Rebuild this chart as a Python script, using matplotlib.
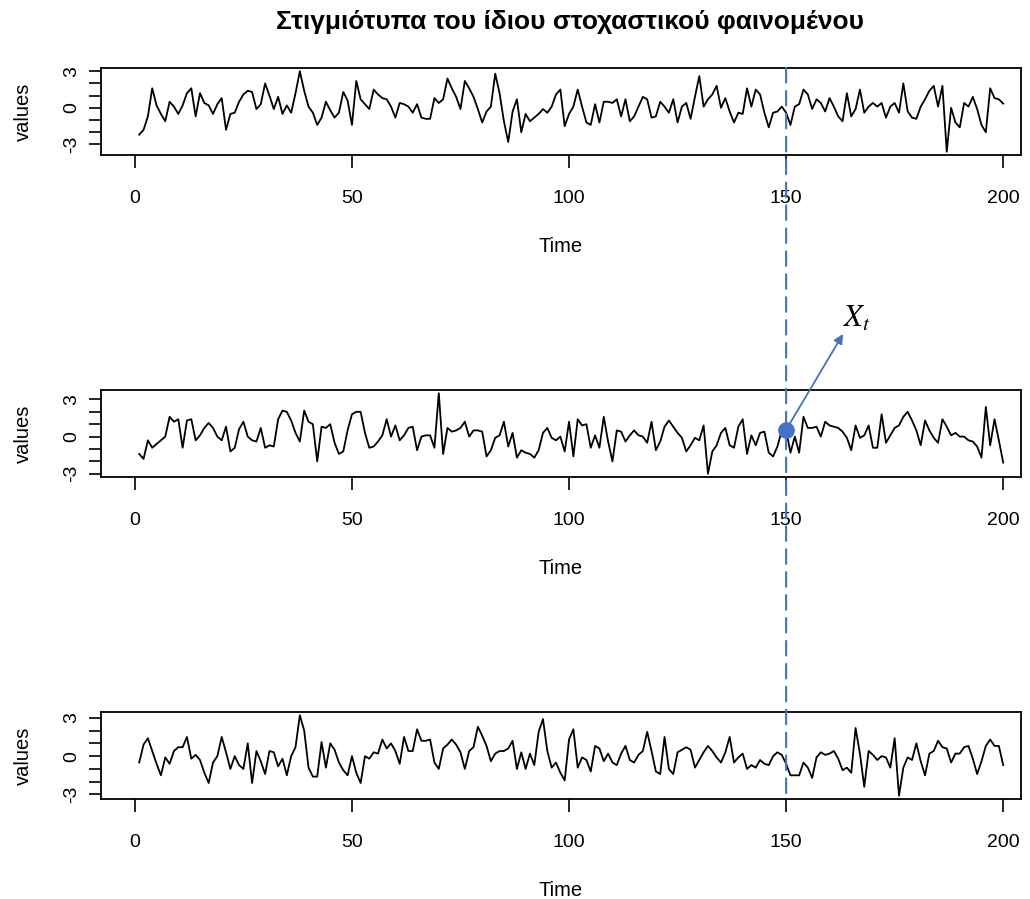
import matplotlib.pyplot as plt
from matplotlib.patches import ConnectionPatch
import numpy as np

plt.rcParams['font.family'] = ['Liberation Sans', 'DejaVu Sans']
plt.rcParams['mathtext.fontset'] = 'stix'

title = "Στιγμιότυπα του ίδιου στοχαστικού φαινομένου"

# three realisations of the same process (t = 1..200)
series_1 = [
    -2.2, -1.8, -0.7, 1.6, 0.2, -0.5, -1.1, 0.5, 0.1, -0.5,
    0.2, 1.2, 1.6, -0.7, 1.2, 0.4, 0.2, -0.5, 0.3, 0.8,
    -1.8, -0.5, -0.4, 0.5, 1.1, 1.4, 1.3, -0.1, 0.3, 2.0,
    1.0, -0.1, 0.9, -0.5, 0.2, -0.4, 1.2, 3.0, 1.4, 0.1,
    -0.4, -1.4, -0.8, 0.5, -0.2, -0.8, -0.4, 1.3, 0.6, -1.4,
    2.2, 0.7, 0.3, -0.1, 1.5, 1.1, 0.8, 0.7, 0.1, -0.8,
    0.4, 0.3, 0.1, -0.4, 0.3, -0.8, -0.9, -0.9, 0.8, 0.4,
    0.7, 2.4, 1.6, 0.9, -0.1, 2.2, 1.6, 0.9, -0.1, -1.2,
    -0.3, 0.1, 2.8, 1.2, -1.1, -2.8, -0.3, 0.7, -2.0, -0.5,
    -1.1, -0.8, -0.5, -0.1, -0.4, 0.1, 1.1, 1.5, -1.5, -0.5,
    0.1, 1.5, 0.1, -1.2, -1.4, 0.3, -1.2, 0.5, 0.5, 0.4,
    0.7, -0.7, 0.7, -1.1, -0.7, 0.1, 0.9, 0.7, -0.8, -0.7,
    0.5, 0.1, -0.4, 0.7, -1.2, 0.1, 0.4, -0.9, 0.9, 2.6,
    0.1, 0.7, 1.1, 1.8, 0.0, 0.8, -0.3, -1.2, -0.4, -0.5,
    1.6, 0.1, 1.5, 1.1, -0.4, -1.6, -0.4, -0.3, 0.1, -0.4,
    -1.4, 0.1, 0.3, 1.5, 1.1, -0.1, 0.7, 0.4, -0.3, 0.8,
    0.1, -0.7, -1.1, 1.2, -0.7, -0.1, 1.5, -0.4, 0.1, 0.4,
    0.1, 0.4, -0.8, 0.1, 0.4, -0.4, 2.0, -0.3, -0.8, -0.9,
    0.1, 0.7, 1.4, 1.8, 0.1, 1.8, -3.6, 0.0, -1.2, -1.6,
    0.4, 0.1, 0.9, -0.1, -1.4, -2.0, 1.6, 0.8, 0.7, 0.35,
]
series_2 = [
    -1.4, -1.8, -0.3, -0.9, -0.6, -0.3, 0.0, 1.6, 1.2, 1.4,
    -0.9, 1.3, 1.4, -0.3, 0.1, 0.7, 1.1, 0.7, 0.0, -0.3,
    0.8, -1.2, -0.9, 0.6, 1.2, 0.0, -0.3, -0.4, 0.7, -0.9,
    -0.7, -0.8, 1.4, 2.1, 2.0, 1.3, 0.3, -0.4, 2.1, 1.2,
    1.0, -2.0, 0.8, 0.7, 1.0, -0.5, -1.4, -1.2, 0.5, 1.8,
    2.0, 2.0, 0.3, -0.9, -0.8, -0.4, 0.1, 1.4, 0.0, 0.9,
    -0.3, 0.1, 0.7, 0.8, -1.1, 0.0, 0.1, 0.1, -0.9, 3.5,
    -1.4, 0.7, 0.4, 0.5, 0.7, 1.2, 0.0, 0.5, 0.5, 0.4,
    -1.6, -1.1, -0.1, 0.1, 1.2, -0.8, 0.3, -1.7, -1.1, -1.3,
    -1.4, -1.7, -1.1, 0.3, 0.7, -0.1, -0.3, 0.0, -1.2, 1.2,
    -1.6, 1.4, 0.9, 1.0, -0.9, 0.1, -0.9, 1.6, -0.4, -2.0,
    0.5, 0.4, -0.4, 0.1, 0.5, 0.1, 0.0, -0.5, 1.2, -1.1,
    -0.4, 0.8, 1.3, 0.8, 0.3, -0.1, -1.2, -0.7, -0.1, -0.3,
    0.9, -3.0, -1.2, -0.7, 0.3, 0.7, -0.7, -0.9, 0.8, 1.4,
    -1.4, 0.1, -0.7, 0.3, 0.4, -1.3, -1.6, -0.8, 0.5, 0.55,
    -1.3, 0.0, -1.3, 1.6, 0.7, 0.7, 0.8, 0.0, 1.2, 0.9,
    0.8, 0.7, 0.4, -0.1, -1.1, 0.9, -0.1, 0.1, 0.9, -0.9,
    -0.9, 1.8, -0.5, 0.1, 0.7, 0.9, 1.6, 2.0, 1.3, 0.5,
    -0.7, 1.3, 0.5, -0.1, -0.5, 1.4, 0.8, 0.1, 0.3, 0.0,
    0.0, -0.3, -0.4, -0.8, -1.7, 2.4, -0.7, 1.4, -0.3, -2.1,
]
series_3 = [
    -0.5, 0.9, 1.4, 0.4, -0.6, -1.5, -0.1, -0.6, 0.4, 0.7,
    0.7, 1.5, -0.2, 0.1, -0.3, -1.3, -2.1, -0.5, 0.0, 1.5,
    0.3, -1.0, 0.0, -0.7, -1.0, 1.0, -2.1, 0.4, -0.4, -1.4,
    0.4, 0.3, -0.8, -0.2, -1.5, 0.0, 0.7, 3.2, 2.0, -0.9,
    -1.6, -1.6, 1.1, -0.9, 1.0, 0.5, -0.5, -1.1, -1.5, 0.0,
    -1.3, -2.1, 0.0, -0.2, 0.3, 0.2, 1.3, 0.6, 1.0, 0.4,
    -0.6, 1.5, 0.4, 0.4, 2.1, 1.2, 1.2, 1.3, -0.5, -1.0,
    0.6, 0.9, 1.3, 0.9, 0.3, -1.0, 0.4, 0.7, 2.3, 1.6,
    0.8, -0.4, 0.2, 0.4, 0.4, 0.6, 1.2, -1.0, 0.3, -1.0,
    0.2, -0.7, 1.9, 2.9, 0.4, -0.9, -0.5, -1.3, -1.9, 1.3,
    2.1, -0.9, -0.1, -0.3, -1.2, 0.8, 0.6, -0.4, 0.2, -0.5,
    -0.7, 0.2, 0.8, -0.3, -0.5, 0.1, 0.4, 1.9, 0.4, -1.2,
    -1.4, 1.5, -1.0, -1.4, 0.3, 0.5, 0.7, 0.5, -0.9, -0.3,
    0.3, 0.8, 0.4, -0.1, -0.5, 0.3, 1.5, -0.5, -0.1, 0.2,
    -1.0, -0.7, -0.9, -0.3, -0.6, -0.7, 0.0, 0.3, 0.1, -0.6,
    -1.5, -1.5, -1.5, -0.5, -0.9, -1.7, -0.1, 0.3, 0.1, 0.2,
    0.4, -0.2, -1.1, -0.9, -1.3, 2.2, 0.2, -2.4, 0.4, 0.1,
    -0.3, 0.0, -0.1, -0.9, 1.4, -3.1, -0.9, -0.1, -0.3, 1.0,
    -0.4, -1.5, 0.2, 0.4, 1.2, 0.7, 0.6, -0.5, 0.2, 0.2,
    0.7, 0.8, -0.2, -1.4, -0.4, 0.8, 1.3, 0.8, 0.8, -0.7,
]

x_ticks = [0, 50, 100, 150, 200]
y_ticks = [-3, -2, -1, 0, 1, 2, 3]
y_ticklabels = ["-3", "", "", "0", "", "", "3"]
t_mark = 150  # the time point highlighted across the three panels
blue = "#4472C4"

W, H = 1030, 899
fig = plt.figure(figsize=(W / 100, H / 100), dpi=100)

panel_tops = [68, 390, 712]
axes = []
for top, values in zip(panel_tops, [series_1, series_2, series_3]):
    ax = fig.add_axes([101 / W, 1 - (top + 87) / H, 920 / W, 87 / H])
    time = np.arange(1, len(values) + 1)
    ax.plot(time, values, color="black", lw=1.3)

    # R style limits: data range + 4%
    lo, hi = min(values), max(values)
    pad = 0.04 * (hi - lo)
    ax.set_ylim(lo - pad, hi + pad)
    ax.set_xlim(-7.8, 204.1)

    ax.set_xticks(x_ticks)
    ax.set_yticks(y_ticks)
    ax.set_yticklabels(y_ticklabels)
    ax.tick_params(axis="both", direction="out", length=9, width=1.2,
                   labelsize=14, colors="black")
    ax.tick_params(axis="x", pad=16)
    ax.tick_params(axis="y", pad=6, labelrotation=90)
    for lab in ax.get_yticklabels():
        lab.set_va("center")
    for sp in ax.spines.values():
        sp.set_linewidth(1.3)

    ax.set_xlabel("Time", fontsize=14.5, labelpad=22)
    ax.set_ylabel("values", fontsize=14.5, labelpad=22)
    axes.append(ax)

fig.text(570 / W, 1 - 22 / H, title, ha="center", va="center",
         fontsize=19, fontweight="bold")

# dashed line through all three panels at t = 150
ax1, ax2, ax3 = axes
con = ConnectionPatch(xyA=(t_mark, ax1.get_ylim()[1]), coordsA=ax1.transData,
                      xyB=(t_mark, ax3.get_ylim()[0]), coordsB=ax3.transData,
                      color=blue, lw=1.5, linestyle=(0, (7, 4)), zorder=10)
fig.add_artist(con)

# the random variable X_t at t = 150 of the second realisation
x_t = series_2[t_mark - 1]
ax2.plot(t_mark, x_t, "o", color=blue, ms=11, clip_on=False, zorder=11)
ax2.annotate("", xy=(t_mark, x_t), xytext=(41, 69), textcoords="offset points",
             arrowprops=dict(arrowstyle="<|-", color=blue, lw=1.3,
                             shrinkA=0, shrinkB=0, mutation_scale=14),
             annotation_clip=False)
ax2.annotate(r"$X_t$", xy=(t_mark, x_t), xytext=(51, 80), textcoords="offset points",
             ha="center", va="center", fontsize=22, annotation_clip=False)

fig.savefig("out.png", dpi=100)
